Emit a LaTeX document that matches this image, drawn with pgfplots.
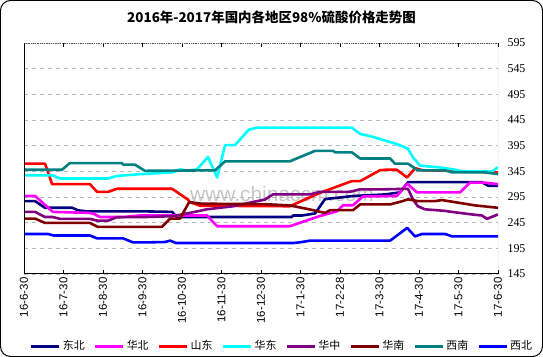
\documentclass[border=0pt]{standalone}
\usepackage{pgfplots}
\pgfplotsset{compat=1.18}
\usepackage{fontspec}
\setmainfont{Liberation Serif}
\newfontfamily\cjk{Noto Sans CJK SC}
\newfontfamily\sansf{Liberation Sans}
\definecolor{cNavy}{RGB}{0,0,128}
\definecolor{cMag}{RGB}{255,0,255}
\definecolor{cRed}{RGB}{255,0,0}
\definecolor{cCyan}{RGB}{0,255,255}
\definecolor{cPurp}{RGB}{128,0,128}
\definecolor{cMaroon}{RGB}{128,0,0}
\definecolor{cTeal}{RGB}{0,128,128}
\definecolor{cBlue}{RGB}{0,0,255}
\begin{document}
\begin{tikzpicture}
\useasboundingbox (0bp,0bp) rectangle (543bp,357bp);
\draw[black, line width=1bp, rounded corners=10bp] (0.5bp,0.5bp) rectangle (542.5bp,356.5bp);
\node[font=\cjk\bfseries\fontsize{13.5}{15}\selectfont] at (271.5bp,340bp) {2016年-2017年国内各地区98\%硫酸价格走势图};
\node[font=\sansf\fontsize{21}{22}\selectfont, text=gray!45] at (282bp,163bp) {www.chinaccm.com};
\begin{axis}[
  at={(24bp,83bp)}, anchor=south west, scale only axis,
  width=474bp, height=231bp,
  xmin=0, xmax=12, ymin=145, ymax=595,
  ytick={145,195,...,595},
  xtick={0,...,12},
  xticklabels={16-6-30,16-7-30,16-8-30,16-9-30,16-10-30,16-11-30,16-12-30,17-1-30,17-2-28,17-3-30,17-4-30,17-5-30,17-6-30},
  xticklabel style={rotate=90, anchor=east, font=\sansf\fontsize{11.5}{12}\selectfont},
  yticklabel pos=right,
  yticklabel style={font=\fontsize{12}{13}\selectfont, xshift=6bp},
  /pgf/number format/assume math mode=true,
  ymajorgrids, grid style={gray!55, dash pattern=on 4bp off 4bp, line width=0.7bp},
  axis line style={draw=none},
  xtick align=inside, major tick length=4bp,
  xtick style={black, line width=0.9bp},
  ytick style={draw=none},
  legend columns=8,
  legend style={at={(0.012,-0.312)}, anchor=west, draw=none, fill=none, inner sep=0pt,
    font=\cjk\fontsize{11}{12}\selectfont,
    /tikz/every even column/.append style={column sep=7bp}},
  legend image code/.code={\draw[#1, line width=3bp] (0bp,0bp) -- (28bp,0bp);},
  every axis plot/.append style={line width=2.6bp, line join=round},
]
% 东北
\addplot[cNavy] coordinates {(0,287)(0.28,287)(0.53,274)(1.22,274)(1.37,269)(1.6,267)(3.06,267)(3.75,266)(3.87,256)(6.78,256)(6.81,259)(7.04,259)(7.37,263)(7.62,291)(8.0,294)(8.33,297)(9.14,300)(9.52,304)(9.72,324)(11.59,324)(11.75,317)(12,317)};
% 华北
\addplot[cMag] coordinates {(0,297)(0.28,297)(0.73,266)(1.67,264)(1.80,261)(1.92,256)(2.51,256)(2.94,259)(4.63,259)(4.89,238)(6.73,238)(7.49,258)(7.92,267)(8.08,279)(8.33,279)(8.58,296)(9.44,297)(9.70,321)(9.95,304)(11.04,304)(11.29,323)(11.67,323)(12,320)};
% 山东
\addplot[cRed] coordinates {(0,360)(0.53,360)(0.58,350)(0.71,320)(1.67,320)(1.85,305)(2.13,305)(2.35,311)(3.75,311)(4.15,290)(4.2,285)(4.46,278)(6.73,277)(7.49,303)(8.30,326)(8.51,326)(9.01,347)(9.14,348)(9.44,348)(9.70,333)(9.90,351)(10.1,347)(10.9,346)(11.5,344)(12,343)};
% 华东
\addplot[cCyan] coordinates {(0,337.5)(0.73,337)(0.91,331)(2.13,331)(2.35,336)(2.94,339.5)(3.77,343)(3.95,349)(4.15,346)(4.38,349)(4.66,373)(4.89,333)(5.09,396)(5.34,396)(5.69,426)(5.90,430)(8.30,430)(8.51,418)(8.84,412)(9.14,405)(9.27,402)(9.44,398)(9.72,389)(9.85,372)(10.03,356)(10.48,353)(10.86,349)(11.09,345)(11.85,345)(12,353)};
% 华中
\addplot[cPurp] coordinates {(0,266)(0.28,266)(0.53,256)(0.73,256)(0.91,252.4)(1.67,252.4)(1.85,249)(2.13,249)(2.35,255.6)(3.06,256)(3.77,257.6)(4.20,264)(4.63,271)(5.29,277)(5.72,284)(6.10,290)(6.30,300)(7.24,300)(7.49,305)(8.25,305)(8.51,310)(9.14,310)(9.72,311)(9.85,290)(9.97,277)(10.15,271)(10.66,268)(10.73,267)(11.34,261)(11.59,259)(11.72,252.5)(12,261)};
% 华南
\addplot[cMaroon] coordinates {(0,253)(0.28,253)(0.53,244.5)(1.67,244.5)(1.87,236.7)(3.49,236.7)(3.70,253)(3.95,253)(4.18,285)(4.5,282)(6.10,281)(6.73,278.6)(7.24,270.7)(7.62,264)(7.75,269.4)(8.33,269.4)(8.51,280.6)(9.27,280.6)(9.59,287)(9.72,290.4)(9.97,287)(10.41,287)(10.58,289)(10.99,284)(11.42,278.6)(12,274)};
% 西南
\addplot[cTeal] coordinates {(0,348)(0.96,348)(1.16,361)(2.48,361)(2.51,358)(2.81,358)(3.06,346)(4.84,347)(5.09,364.5)(6.73,364.5)(7.37,385)(7.82,385)(7.88,382)(8.30,382)(8.51,370)(9.27,370)(9.39,360)(9.72,360)(9.97,347)(10.66,347)(10.84,343)(11.67,343)(12,339.5)};
% 西北
\addplot[cBlue] coordinates {(0,223)(0.61,223)(0.75,220)(1.67,220)(1.85,214.4)(2.51,214.4)(2.76,206.5)(3.06,206.5)(3.57,207.3)(3.70,210)(3.85,205.3)(6.81,205.3)(7.04,207.3)(7.24,210)(9.27,210)(9.70,234.8)(9.90,218.3)(10.08,223)(10.66,223)(10.84,218.3)(12,218.3)};
\legend{东北,华北,山东,华东,华中,华南,西南,西北}
\draw[gray!70!black, densely dotted, line width=0.8bp] (rel axis cs:0,1) -- (rel axis cs:1,1) -- (rel axis cs:1,0);
\draw[black, line width=1.2bp] (rel axis cs:0,1) -- (rel axis cs:0,0) -- (rel axis cs:1,0);
\end{axis}
\end{tikzpicture}
\end{document}
